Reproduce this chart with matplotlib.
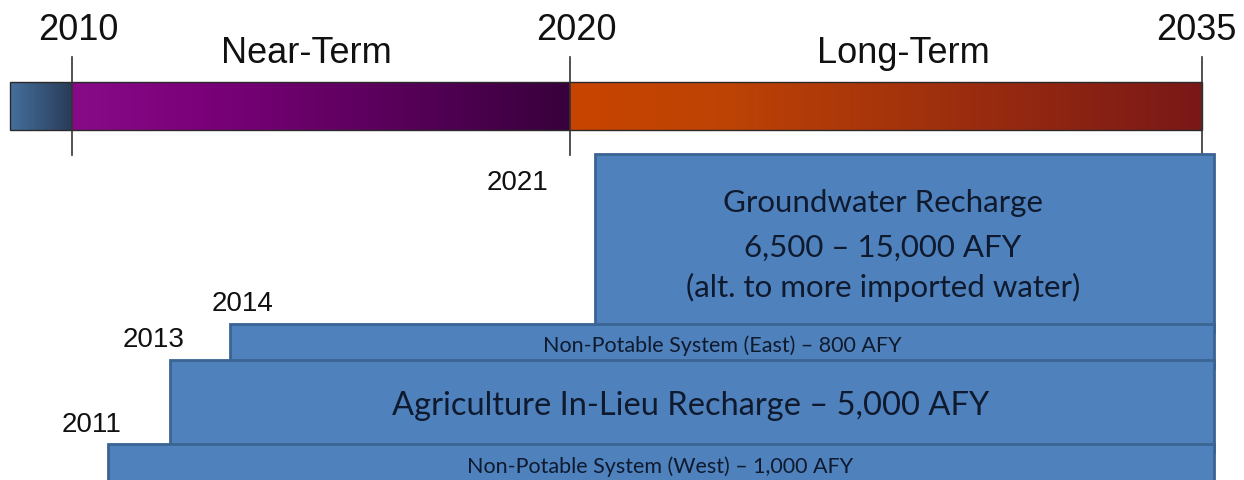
import matplotlib
matplotlib.use("Agg")
import matplotlib.pyplot as plt
import matplotlib.patches as mpatch
from matplotlib.colors import LinearSegmentedColormap
import numpy as np

# Posicoes esquematicas dos anos (o eixo nao e linear no original)
years = [2010, 2011, 2013, 2014, 2020, 2021, 2035]
year_x = [72, 108, 170, 230, 570, 595, 1202]
pos = dict(zip(years, year_x))

# Barra de periodos
bar_start = 10
periods = ["", "Near-Term", "Long-Term"]
period_years = [(None, 2010), (2010, 2020), (2020, 2035)]
period_colors = [[(0, "#44709c"), (1, "#293c58")],
                 [(0, "#880a88"), (0.3, "#780077"), (1, "#38003c")],
                 [(0, "#c84400"), (0.25, "#bd4305"), (1, "#7a1818")]]

milestones = [2010, 2020, 2035]

# Programas (ano inicial, linhas de texto, tamanho da fonte)
prog_years = [2021, 2014, 2013, 2011]
prog_text = [["Groundwater Recharge", "6,500 \u2013 15,000 AFY", "(alt. to more imported water)"],
             ["Non-Potable System (East) \u2013 800 AFY"],
             ["Agriculture In-Lieu Recharge \u2013 5,000 AFY"],
             ["Non-Potable System (West) \u2013 1,000 AFY"]]
prog_fs = [22.5, 15.5, 23.5, 15.5]
box_end = 1214
box_tops = [155, 325, 361, 445, 484]


fig = plt.figure(figsize=(12.44, 4.81), dpi=100)
ax = fig.add_axes([0, 0, 1, 1])
ax.set_xlim(0, 1244)
ax.set_ylim(481, 0)
ax.axis('off')

# Barra com gradientes
bar_top, bar_bot = 83, 131
for (a, b), stops in zip(period_years, period_colors):
    x0 = bar_start if a is None else pos[a]
    x1 = pos[b]
    cmap = LinearSegmentedColormap.from_list("g", stops)
    grad = np.linspace(0, 1, 256).reshape(1, -1)
    ax.imshow(grad, cmap=cmap, aspect='auto', extent=(x0, x1, bar_bot, bar_top), zorder=1)
ax.add_patch(mpatch.Rectangle((bar_start, bar_top), pos[2035] - bar_start, bar_bot - bar_top,
                              fill=False, ec="#2a2a2a", lw=1.0, zorder=2))

milestone_lx = [78, 576, 1196]
for y, lx in zip(milestones, milestone_lx):
    ax.plot([pos[y], pos[y]], [58, 156], color="#333333", lw=1.2, zorder=3)
    ax.text(lx, 40, str(y), ha='center', va='baseline', fontsize=26,
            family='Liberation Sans', color="#111111")

period_lx = [0, 306, 903]
for name, lx in zip(periods, period_lx):
    if name:
        ax.text(lx, 63, name, ha='center', va='baseline', fontsize=26,
                family='Liberation Sans', color="#111111")

# Caixas dos programas
label_pos = [(517, 190), (243, 311), (154, 347), (92, 432)]
text_x = [883, 722, 691, 660]
text_y = [[212, 257, 297], [352], [415], [473]]
for i, yr in enumerate(prog_years):
    x0 = pos[yr]
    top = box_tops[i]
    h = box_tops[i + 1] - top
    ax.add_patch(mpatch.Rectangle((x0, top), box_end - x0, h + 8, fc="#4f81bd",
                                  ec="#3a6493", lw=2.0, zorder=4 + i))
    lx, ly = label_pos[i]
    ax.text(lx, ly, str(yr), ha='center', va='baseline', fontsize=20,
            family='Liberation Sans', color="#111111", zorder=10)
    for line, ty in zip(prog_text[i], text_y[i]):
        ax.text(text_x[i], ty, line, ha='center', va='baseline', fontsize=prog_fs[i],
                family='Lato', color="#0f1a2e", zorder=10)

fig.savefig("out.png", dpi=100)
